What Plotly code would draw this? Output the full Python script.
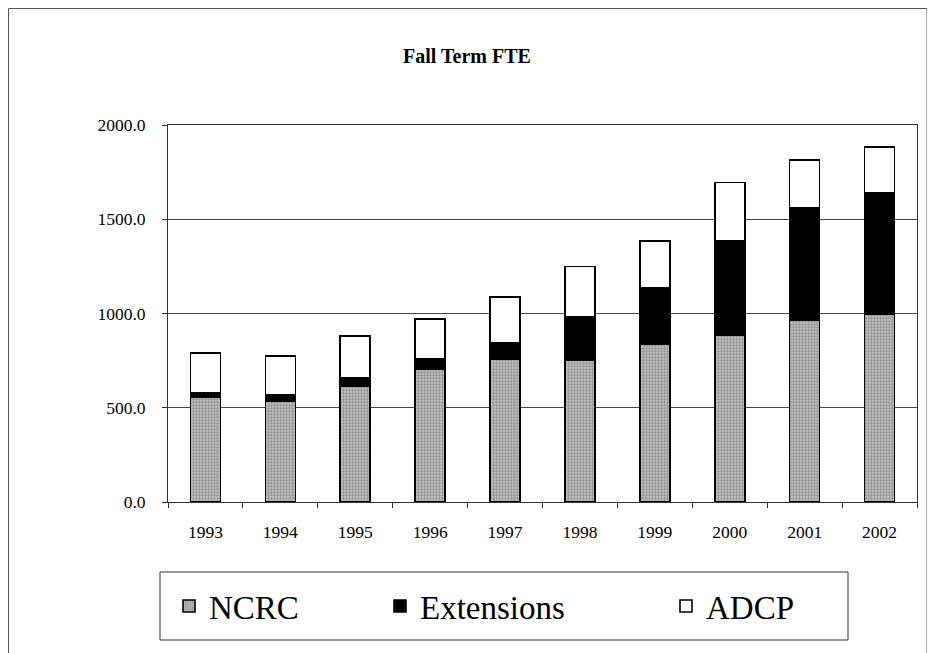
import plotly.graph_objects as go

years = ["1993", "1994", "1995", "1996", "1997", "1998", "1999", "2000", "2001", "2002"]
ncrc = [557, 536, 617, 706, 759, 750, 835, 885, 963, 998]
extensions = [21, 32, 40, 53, 86, 230, 302, 503, 599, 640]
adcp = [212, 207, 223, 212, 242, 269, 248, 308, 252, 244]
y_ticks = [0, 500, 1000, 1500, 2000]

# page offset of the figure (browser body margin)
O = 8
W, H = 935, 653
# plot area in screen pixels
L, R, T, B = 168, 917, 125, 502

def px(x):
    return (x - L) / (R - L)

def py(y):
    return (B - y) / (B - T)

serif = "'Times New Roman', 'Liberation Serif', Times, serif"
outline = dict(color="black", width=1.6)

fig = go.Figure()
fig.add_trace(go.Bar(
    x=years, y=ncrc, name="NCRC", legend="legend",
    marker=dict(color="#acacac", line=outline,
                pattern=dict(shape=".", fgcolor="#5e5e5e", bgcolor="#c0c0c0", size=3, solidity=0.45)),
))
fig.add_trace(go.Bar(
    x=years, y=extensions, name="Extensions", legend="legend2",
    marker=dict(color="black", line=outline),
))
fig.add_trace(go.Bar(
    x=years, y=adcp, name="ADCP", legend="legend3",
    marker=dict(color="white", line=outline),
))

def leg(x_screen):
    return dict(
        orientation="h",
        x=px(x_screen), xanchor="left",
        y=py(606), yanchor="middle",
        font=dict(family=serif, size=33, color="black"),
        bgcolor="rgba(0,0,0,0)",
        borderwidth=0,
    )

fig.update_layout(
    barmode="stack",
    bargap=0.6,
    width=W, height=H,
    autosize=False,
    margin=dict(l=L - O, r=W - (R - O), t=T - O, b=H - (B - O)),
    paper_bgcolor="white",
    plot_bgcolor="white",
    font=dict(family=serif, color="black", size=17),
    title=dict(text="<b>Fall Term FTE</b>", x=(467 - O) / W, xanchor="center",
               y=1 - (56 - O) / H, yanchor="middle", yref="container",
               font=dict(family=serif, size=20, color="black")),
    showlegend=True,
    legend=leg(169),
    legend2=leg(380),
    legend3=leg(666),
    xaxis=dict(
        type="category",
        showline=True, linecolor="#333333", linewidth=1,
        mirror=True,
        ticks="outside", ticklen=5, tickcolor="#333333",
        tickson="boundaries",
        showgrid=False,
        ticklabelstandoff=14,
        tickfont=dict(family=serif, size=17.5, color="black"),
    ),
    yaxis=dict(
        range=[0, 2000],
        tickvals=y_ticks,
        tickformat=".1f",
        showline=True, linecolor="#333333", linewidth=1,
        mirror=True,
        ticks="outside", ticklen=5, tickcolor="#333333",
        showgrid=True, gridcolor="#444444", gridwidth=1,
        ticklabelstandoff=13,
        tickfont=dict(family=serif, size=17.5, color="black"),
        zeroline=False,
    ),
    shapes=[
        # legend box
        dict(type="rect", xref="paper", yref="paper",
             x0=px(160), x1=px(848), y0=py(640), y1=py(572),
             line=dict(color="#333333", width=1), fillcolor="rgba(0,0,0,0)", layer="below"),
        # outer chart border
        dict(type="rect", xref="paper", yref="paper",
             x0=px(8.5), x1=px(927), y0=py(670), y1=py(8.5),
             line=dict(color="#555555", width=1), fillcolor="rgba(0,0,0,0)", layer="below"),
    ],
)

fig.write_html("out.html")
